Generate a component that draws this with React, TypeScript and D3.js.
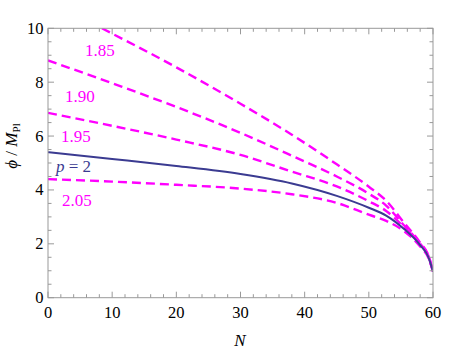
import React from "react";
import * as d3 from "d3";

const W = 463;
const H = 349;
const M = { left: 48, right: 30, top: 28.3, bottom: 51.3 };

const nGrid = [0, 10, 20, 30, 38, 45, 50, 52.7, 55.5, 58, 59.3, 60];
const phiP200 = [5.4, 5.15, 4.89, 4.59, 4.24, 3.78, 3.34, 3.05, 2.55, 1.95, 1.5, 0.97];
const phiP205 = [4.4, 4.31, 4.19, 4.05, 3.84, 3.52, 3.08, 2.85, 2.47, 1.9, 1.47, 0.97];
const phiP195 = [6.86, 6.38, 5.87, 5.3, 4.68, 4.13, 3.58, 3.22, 2.62, 1.98, 1.52, 0.97];
const phiP190 = [8.81, 7.96, 7.08, 6.12, 5.27, 4.5, 3.86, 3.42, 2.68, 2.01, 1.54, 0.97];
const nGrid185 = [8.4, 20, 30, 38, 45, 50, 52.7, 55.5, 58, 59.3, 60];
const phiP185 = [10.0, 8.55, 7.2, 6.05, 4.95, 4.12, 3.6, 2.78, 2.04, 1.56, 0.97];

const xMajor = [0, 10, 20, 30, 40, 50, 60];
const yMajor = [0, 2, 4, 6, 8, 10];

const dashedSeries = [
  { label: "1.85", ns: nGrid185, vals: phiP185, lx: 85, ly: 55.5 },
  { label: "1.90", ns: nGrid, vals: phiP190, lx: 65, ly: 101.5 },
  { label: "1.95", ns: nGrid, vals: phiP195, lx: 61, ly: 141.5 },
  { label: "2.05", ns: nGrid, vals: phiP205, lx: 62, ly: 205.5 },
];

const FONT =
  '"Liberation Serif", "DejaVu Serif", Tinos, "Nimbus Roman", "Nimbus Roman No9 L", FreeSerif, "Noto Serif", "Times New Roman", Times, serif';
const MAGENTA = "#ff00ff";
const NAVY = "#3b3b91";
const FRAME = "#999999";

export default function App() {
  const x = d3.scaleLinear().domain([0, 60]).range([M.left, W - M.right]);
  const y = d3.scaleLinear().domain([0, 10]).range([H - M.bottom, M.top]);
  const x0 = x(0), x1 = x(60), y0 = y(0), y1 = y(10);

  const line = (ns: number[], vals: number[]) =>
    d3
      .line<number>()
      .x((_, i) => x(ns[i]))
      .y((v) => y(v))
      .curve(d3.curveMonotoneX)(vals) || "";

  const xMinor = d3.range(0, 60.001, 2).filter((v) => v % 10 !== 0);
  const yMinor = d3.range(0, 10.001, 0.5).filter((v) => Math.abs(v % 2) > 1e-6);
  const MAJ = 6;
  const MIN = 3.5;

  return (
    <svg
      width={W}
      height={H}
      style={{ position: "absolute", left: 0, top: 0, background: "#fff", fontFamily: FONT }}
    >
      <defs>
        <clipPath id="plot">
          <rect x={x0} y={y1} width={x1 - x0} height={y0 - y1} />
        </clipPath>
      </defs>
      <g clipPath="url(#plot)" fill="none">
        {dashedSeries.map((s) => (
          <path
            key={s.label}
            d={line(s.ns, s.vals)}
            stroke={MAGENTA}
            strokeWidth={2.4}
            strokeDasharray="9 5"
          />
        ))}
        <path d={line(nGrid, phiP200)} stroke={NAVY} strokeWidth={2} />
      </g>

      <rect x={x0} y={y1} width={x1 - x0} height={y0 - y1} fill="none" stroke={FRAME} strokeWidth={1} />
      <g stroke={FRAME} strokeWidth={1}>
        {xMajor.map((v) => (
          <g key={"xM" + v}>
            <line x1={x(v)} x2={x(v)} y1={y0} y2={y0 - MAJ} />
            <line x1={x(v)} x2={x(v)} y1={y1} y2={y1 + MAJ} />
          </g>
        ))}
        {xMinor.map((v) => (
          <g key={"xm" + v}>
            <line x1={x(v)} x2={x(v)} y1={y0} y2={y0 - MIN} />
            <line x1={x(v)} x2={x(v)} y1={y1} y2={y1 + MIN} />
          </g>
        ))}
        {yMajor.map((v) => (
          <g key={"yM" + v}>
            <line x1={x0} x2={x0 + MAJ} y1={y(v)} y2={y(v)} />
            <line x1={x1} x2={x1 - MAJ} y1={y(v)} y2={y(v)} />
          </g>
        ))}
        {yMinor.map((v) => (
          <g key={"ym" + v}>
            <line x1={x0} x2={x0 + MIN} y1={y(v)} y2={y(v)} />
            <line x1={x1} x2={x1 - MIN} y1={y(v)} y2={y(v)} />
          </g>
        ))}
      </g>

      <g fontSize={16.5} fill="#000" style={{ fontFamily: FONT }}>
        {xMajor.map((v) => (
          <text key={"xl" + v} x={x(v)} y={318} textAnchor="middle">
            {v}
          </text>
        ))}
        {yMajor.map((v) => (
          <text key={"yl" + v} x={43.5} y={y(v) + 5.5} textAnchor="end">
            {v}
          </text>
        ))}
      </g>

      <text x={240} y={345.5} textAnchor="middle" fontSize={17} fontStyle="italic" style={{ fontFamily: FONT }}>
        N
      </text>
      <text
        transform={`translate(17, 146) rotate(-90)`}
        textAnchor="middle"
        fontSize={17}
        style={{ fontFamily: FONT }}
      >
        <tspan fontStyle="italic">ϕ</tspan>
        <tspan> / </tspan>
        <tspan fontStyle="italic">M</tspan>
        <tspan fontSize={11} dy={3}>Pl</tspan>
      </text>

      <g fontSize={17} fill={MAGENTA} style={{ fontFamily: FONT }}>
        {dashedSeries.map((s) => (
          <text key={"lab" + s.label} x={s.lx} y={s.ly}>
            {s.label}
          </text>
        ))}
      </g>
      <text x={56} y={171.5} fontSize={17} fill={NAVY} style={{ fontFamily: FONT }}>
        <tspan fontStyle="italic">p</tspan>
        <tspan> = 2</tspan>
      </text>
    </svg>
  );
}
